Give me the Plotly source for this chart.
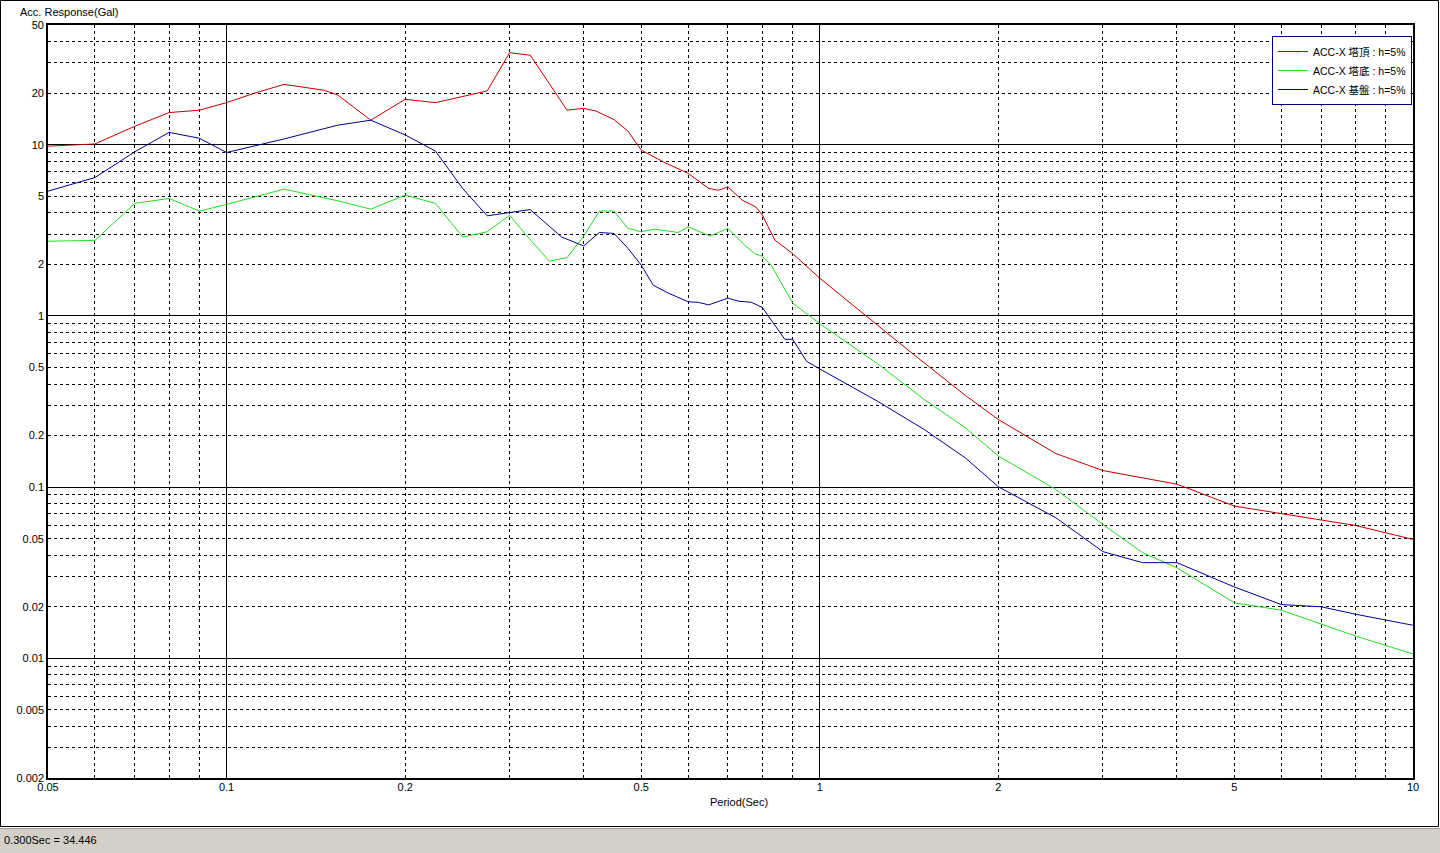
import math
import plotly.graph_objects as go

# ---------------- data ----------------
periods_top = [0.05, 0.06, 0.07, 0.08, 0.09, 0.10, 0.111, 0.125, 0.146, 0.154, 0.175, 0.20, 0.225,
               0.25, 0.275, 0.30, 0.325, 0.375, 0.40, 0.42, 0.45, 0.475, 0.50, 0.55, 0.60, 0.65,
               0.675, 0.70, 0.74, 0.78, 0.80, 0.84, 0.90, 1.0, 1.2, 1.44, 1.76, 2.0, 2.5, 3.0,
               4.0, 5.0, 6.0, 7.0, 8.0, 10.0]
acc_top = [9.8, 10.1, 12.8, 15.4, 15.9, 17.6, 19.9, 22.5, 20.8, 19.5, 13.9, 18.4, 17.6,
           19.2, 20.6, 34.446, 33.3, 15.9, 16.3, 15.7, 14.0, 12.0, 9.3, 7.8, 6.8, 5.55,
           5.42, 5.67, 4.74, 4.33, 3.88, 2.77, 2.31, 1.66, 0.99, 0.594, 0.343, 0.248, 0.157, 0.125,
           0.104, 0.0775, 0.070, 0.064, 0.0597, 0.0495]

periods_bottom = [0.05, 0.06, 0.07, 0.08, 0.09, 0.10, 0.125, 0.154, 0.175, 0.20, 0.225, 0.25,
                  0.275, 0.30, 0.322, 0.35, 0.375, 0.40, 0.425, 0.45, 0.475, 0.50, 0.527, 0.577,
                  0.60, 0.653, 0.70, 0.747, 0.777, 0.80, 0.828, 0.90, 1.0, 1.25, 1.5, 1.76, 2.0,
                  2.5, 3.0, 3.5, 4.0, 5.0, 6.0, 7.0, 8.0, 10.0]
acc_bottom = [2.73, 2.76, 4.54, 4.85, 4.09, 4.48, 5.50, 4.70, 4.20, 5.07, 4.54, 2.89,
              3.10, 3.87, 2.89, 2.09, 2.19, 2.92, 4.09, 4.10, 3.24, 3.10, 3.21, 3.07,
              3.31, 2.93, 3.24, 2.59, 2.31, 2.23, 1.98, 1.19, 0.90, 0.527, 0.325, 0.222, 0.152,
              0.0969, 0.0606, 0.0414, 0.0338, 0.0211, 0.0191, 0.0158, 0.0135, 0.0106]

periods_base = [0.05, 0.06, 0.07, 0.08, 0.09, 0.10, 0.125, 0.154, 0.175, 0.20, 0.225, 0.25,
                0.275, 0.30, 0.325, 0.367, 0.40, 0.425, 0.45, 0.475, 0.50, 0.524, 0.555, 0.60,
                0.624, 0.65, 0.70, 0.728, 0.767, 0.80, 0.828, 0.873, 0.90, 0.925, 0.95, 1.0,
                1.25, 1.5, 1.76, 2.0, 2.5, 3.0, 3.5, 4.0, 5.0, 6.0, 7.0, 8.0, 10.0]
acc_base = [5.35, 6.43, 9.08, 11.8, 10.9, 9.0, 10.8, 13.0, 13.9, 11.4, 9.17, 5.55,
            3.84, 4.02, 4.18, 2.89, 2.56, 3.07, 3.03, 2.48, 1.98, 1.51, 1.36, 1.21,
            1.20, 1.16, 1.27, 1.22, 1.20, 1.12, 0.944, 0.73, 0.73, 0.63, 0.543, 0.49,
            0.318, 0.217, 0.148, 0.1005, 0.0662, 0.042, 0.0362, 0.0362, 0.0261, 0.0206, 0.020, 0.0181, 0.0156]

series_names = ["ACC-X 塔頂 : h=5%", "ACC-X 塔底 : h=5%", "ACC-X 基盤 : h=5%"]

x_tick_labels = [0.05, 0.1, 0.2, 0.5, 1, 2, 5, 10]
y_tick_labels = [0.002, 0.005, 0.01, 0.02, 0.05, 0.1, 0.2, 0.5, 1, 2, 5, 10, 20, 50]
x_major_grid = [0.1, 1, 10]
y_major_grid = [0.01, 0.1, 1, 10]
x_minor_grid = [0.06, 0.07, 0.08, 0.09, 0.2, 0.3, 0.4, 0.5, 0.6, 0.7, 0.8, 0.9,
                2, 3, 4, 5, 6, 7, 8, 9]
y_minor_grid = [0.003, 0.004, 0.005, 0.006, 0.007, 0.008, 0.009,
                0.02, 0.03, 0.04, 0.05, 0.06, 0.07, 0.08, 0.09,
                0.2, 0.3, 0.4, 0.5, 0.6, 0.7, 0.8, 0.9,
                2, 3, 4, 5, 6, 7, 8, 9, 20, 30, 40]
status_text = "0.300Sec = 34.446"

# ---------------- figure ----------------
W, H = 1440, 853
ML, MR, MT, MB = 48, 27, 25, 75
PW, PH = W - ML - MR, H - MT - MB

def px_x(p):
    return (p - ML) / PW

def px_y(p):
    return (H - MB - p) / PH

FONT = "Liberation Sans, Arial, Noto Sans CJK JP, sans-serif"
xr = [math.log10(0.05), math.log10(10)]
yr = [math.log10(0.002), math.log10(50)]

fig = go.Figure()
fig.add_trace(go.Scatter(x=periods_top, y=acc_top, mode="lines", name=series_names[0],
                         line=dict(color="#C00000", width=1)))
fig.add_trace(go.Scatter(x=periods_bottom, y=acc_bottom, mode="lines", name=series_names[1],
                         line=dict(color="#22DD22", width=1)))
fig.add_trace(go.Scatter(x=periods_base, y=acc_base, mode="lines", name=series_names[2],
                         line=dict(color="#000090", width=1), xaxis="x2", yaxis="y2"))

grid_dash = "3px,3px"
fig.update_layout(
    width=W, height=H,
    margin=dict(l=ML, r=MR, t=MT, b=MB, pad=0),
    paper_bgcolor="white", plot_bgcolor="white",
    font=dict(family=FONT, size=11, color="black"),
    showlegend=True,
    legend=dict(x=px_x(1412), xanchor="right", y=px_y(36), yanchor="top",
                bgcolor="white", bordercolor="#000080", borderwidth=1,
                font=dict(family=FONT, size=10.5, color="black"),
                itemwidth=30, tracegroupgap=0),
    xaxis=dict(type="log", range=xr, tickvals=x_major_grid, showticklabels=False,
               showgrid=True, gridcolor="black", gridwidth=1, ticks="",
               minor=dict(tickvals=x_minor_grid, showgrid=True, gridcolor="black",
                          griddash=grid_dash, gridwidth=1, ticks=""),
               showline=True, linecolor="black", linewidth=2, mirror=True, zeroline=False),
    yaxis=dict(type="log", range=yr, tickvals=y_major_grid, showticklabels=False,
               showgrid=True, gridcolor="black", gridwidth=1, ticks="",
               minor=dict(tickvals=y_minor_grid, showgrid=True, gridcolor="black",
                          griddash=grid_dash, gridwidth=1, ticks=""),
               showline=True, linecolor="black", linewidth=2, mirror=True, zeroline=False),
    xaxis2=dict(type="log", range=xr, overlaying="x", side="bottom", anchor="y2",
                tickvals=x_tick_labels, ticktext=[str(v) for v in x_tick_labels],
                showgrid=False, showline=False, zeroline=False, ticks="",
                ticklabelstandoff=1,
                tickfont=dict(family=FONT, size=11, color="black")),
    yaxis2=dict(type="log", range=yr, overlaying="y", side="left", anchor="x2",
                tickvals=y_tick_labels, ticktext=[str(v) for v in y_tick_labels],
                showgrid=False, showline=False, zeroline=False, ticks="",
                ticklabelstandoff=3,
                tickfont=dict(family=FONT, size=11, color="black")),
)

# window frame and status bar
fig.add_shape(type="rect", xref="paper", yref="paper",
              x0=px_x(0.5), x1=px_x(1438.5), y0=px_y(826.5), y1=px_y(0.5),
              line=dict(color="black", width=1), fillcolor="rgba(0,0,0,0)", layer="below")
fig.add_shape(type="rect", xref="paper", yref="paper",
              x0=px_x(0), x1=px_x(1440), y0=px_y(853), y1=px_y(828),
              line=dict(width=0), fillcolor="#D4D0C8", layer="below")
fig.add_shape(type="line", xref="paper", yref="paper",
              x0=px_x(0), x1=px_x(1440), y0=px_y(828.5), y1=px_y(828.5),
              line=dict(color="#A0A0A0", width=1))

fig.add_annotation(text="Acc. Response(Gal)", xref="paper", yref="paper",
                   x=px_x(18), y=px_y(12), xanchor="left", yanchor="middle",
                   showarrow=False, font=dict(family=FONT, size=11, color="black"))
fig.add_annotation(text="Period(Sec)", xref="paper", yref="paper",
                   x=px_x(739), y=px_y(802), xanchor="center", yanchor="middle",
                   showarrow=False, font=dict(family=FONT, size=11, color="black"))
fig.add_annotation(text=status_text, xref="paper", yref="paper",
                   x=px_x(2), y=px_y(840), xanchor="left", yanchor="middle",
                   showarrow=False, font=dict(family=FONT, size=11, color="black"))

fig.write_html("out.html", config={"displayModeBar": False},
               post_script="document.body.style.margin='0';document.body.style.overflow='hidden';")
